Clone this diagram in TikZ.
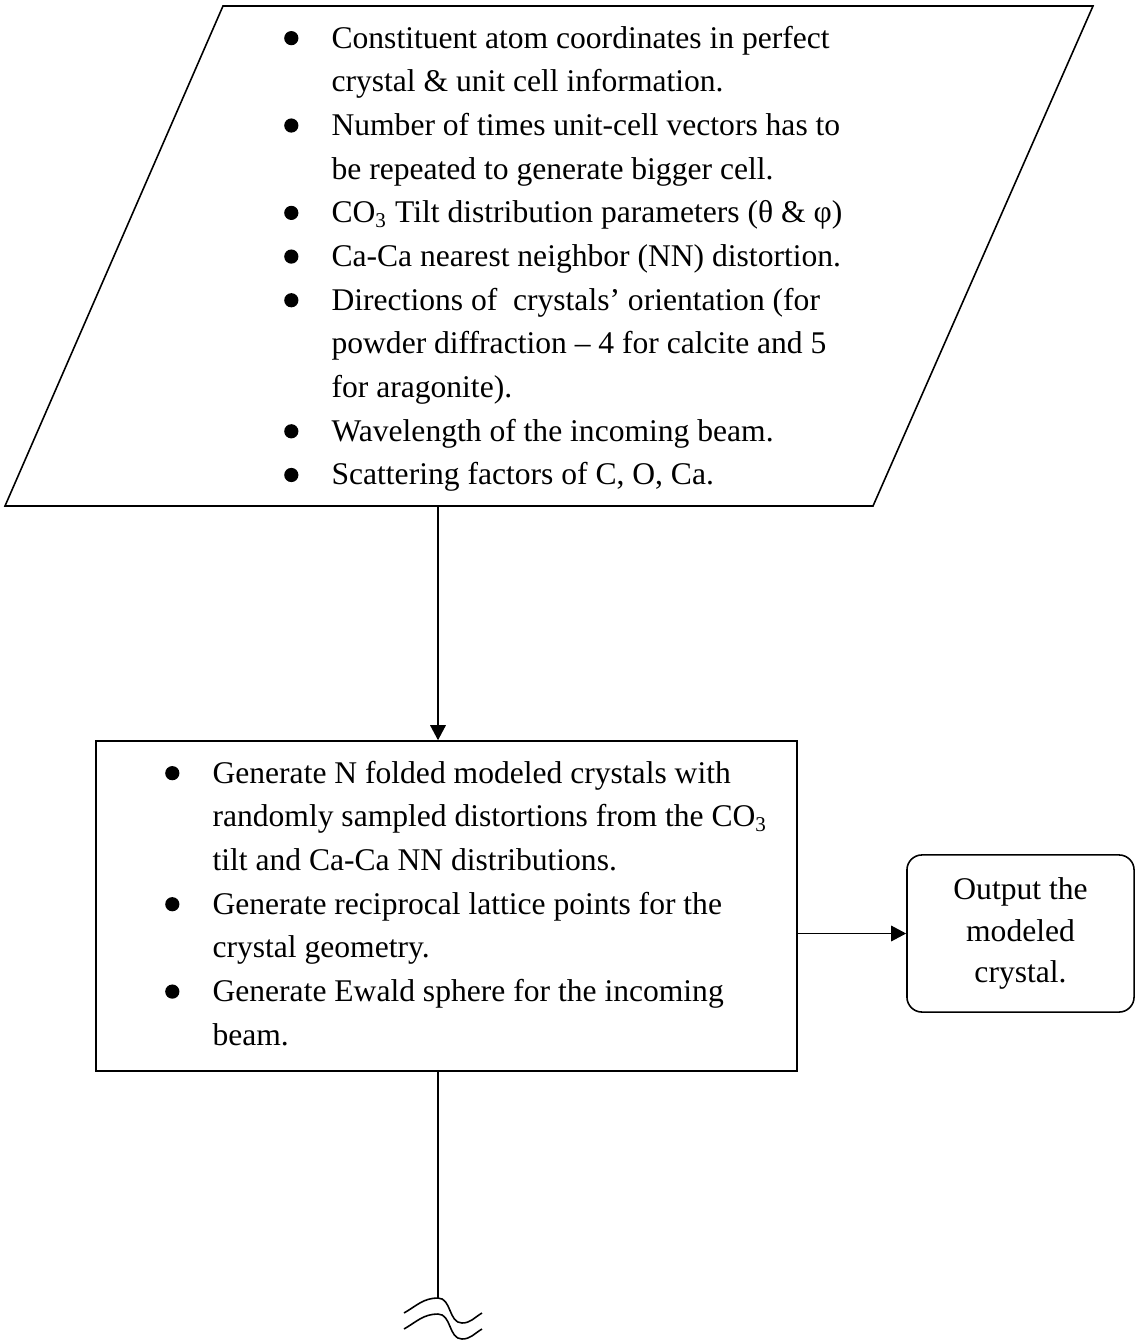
\documentclass[tikz,border=0pt]{standalone}
\usepackage{fontspec}
\setmainfont{Liberation Serif}
\usetikzlibrary{arrows.meta, positioning, calc}

\newcommand{\bul}{\makebox[15.6pt][l]{\hspace{-2.4pt}\tikz[x=1pt, y=1pt, baseline=-3.8pt]\fill (0,0) circle [radius=2.7pt];}}
\newcommand{\ind}{\hspace*{15.6pt}}

\begin{document}
\begin{tikzpicture}[
    x=0.38pt, y=0.38pt,
    line width=0.6pt,
    list/.style={inner sep=0pt, align=left, font=\fontsize{12}{16.6}\selectfont},
    block/.style={rectangle, draw, minimum width=266.4pt, minimum height=125.4pt},
    outbox/.style={rectangle, draw, rounded corners=5.7pt, minimum width=86.3pt, minimum height=59.7pt, align=center, font=\fontsize{12}{15.8}\selectfont},
    arrow/.style={-{Triangle[length=5.7pt, width=5.9pt]}}
]

\useasboundingbox (0,0) rectangle (1136,-1340);

% input data
\draw (5,-506) -- (873,-506) -- (1093,-6) -- (223,-6) -- cycle;
\node[list, anchor=north west] (inputs) at (290,-25.4) {%
\bul Constituent atom coordinates in perfect\\
\ind crystal \& unit cell information.\\
\bul Number of times unit-cell vectors has to\\
\ind be repeated to generate bigger cell.\\
\bul CO\textsubscript{3} Tilt distribution parameters (θ \& φ)\\
\bul Ca-Ca nearest neighbor (NN) distortion.\\
\bul Directions of~ crystals’ orientation (for\\
\ind powder diffraction -- 4 for calcite and 5\\
\ind for aragonite).\\
\bul Wavelength of the incoming beam.\\
\bul Scattering factors of C, O, Ca.};
\coordinate (inbot) at (438,-506);

% process
\node[block] (proc) at (446.5,-906) {};
\node[list, anchor=north west] (steps) at (171,-760.4) {%
\bul Generate N folded modeled crystals with\\
\ind randomly sampled distortions from the CO\textsubscript{3}\\
\ind tilt and Ca-Ca NN distributions.\\
\bul Generate reciprocal lattice points for the\\
\ind crystal geometry.\\
\bul Generate Ewald sphere for the incoming\\
\ind beam.};

% output
\node[outbox] (output) at (1020.5,-933.5) {Output the\\modeled\\crystal.};

\draw[arrow] (inbot) -- (inbot |- proc.north);
\draw[arrow] (output.west -| proc.east) -- (output.west);

% continues on the next page
\coordinate (brk) at (438,-1298);
\draw (proc.south -| brk) -- (brk);
\foreach \dy in {0,-16}
  \draw (404,-1313+\dy) to[out=30,in=180] (438,-1298+\dy) to[out=0,in=180] (462,-1323+\dy) to[out=0,in=210] (482,-1313+\dy);

\end{tikzpicture}
\end{document}
